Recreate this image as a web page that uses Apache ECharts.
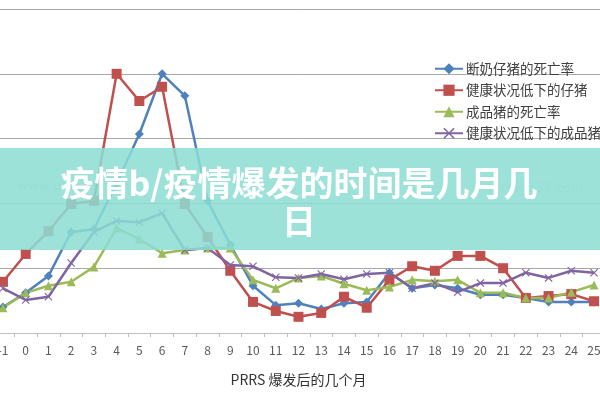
<!DOCTYPE html>
<html>
<head>
<meta charset="utf-8">
<script src="https://cdn.jsdelivr.net/npm/echarts/dist/echarts.min.js"></script>
<style>
    html, body { margin: 0; padding: 0; background: #fff; overflow: hidden; }
    #chart { position: relative; left: -10px; width: 620px; height: 400px; }
</style>
</head>
<body>
<div id="chart"></div>
<script>
    // months after the outbreak
    var months = ['-1', '0', '1', '2', '3', '4', '5', '6', '7', '8', '9', '10', '11', '12',
        '13', '14', '15', '16', '17', '18', '19', '20', '21', '22', '23', '24', '25'];

    var seriesNames = ['断奶仔猪的死亡率', '健康状况低下的仔猪', '成品猪的死亡率', '健康状况低下的成品猪'];

    var weanedMortality = [0.40, 0.62, 0.88, 1.56, 1.60, 2.31, 3.07, 4.00, 3.66, 2.04, 1.36, 0.73, 0.43, 0.46,
        0.37, 0.46, 0.48, 0.93, 0.69, 0.74, 0.69, 0.59, 0.59, 0.54, 0.48, 0.48, 0.48];
    var poorPiglets = [0.79, 1.22, 1.57, 1.99, 2.04, 4.00, 3.58, 3.80, 1.99, 1.48, 0.96, 0.48, 0.34, 0.25,
        0.31, 0.56, 0.39, 0.82, 1.03, 0.96, 1.19, 1.19, 1.00, 0.54, 0.57, 0.60, 0.49];
    var finisherMortality = [0.39, 0.62, 0.73, 0.79, 1.02, 1.62, 1.45, 1.23, 1.28, 1.31, 1.31, 0.82, 0.69, 0.85,
        0.88, 0.76, 0.66, 0.71, 0.82, 0.80, 0.82, 0.62, 0.62, 0.54, 0.54, 0.63, 0.74];
    var poorFinishers = [0.69, 0.51, 0.56, 1.08, 1.56, 1.73, 1.71, 1.85, 1.28, 1.31, 1.05, 1.03, 0.86, 0.85,
        0.91, 0.83, 0.91, 0.93, 0.69, 0.77, 0.63, 0.77, 0.77, 0.93, 0.85, 0.96, 0.93];

    var crossSymbol = 'path://M0,1L1,0L5,4L9,0L10,1L6,5L10,9L9,10L5,6L1,10L0,9L4,5Z';

    // the div sits 10px left of the page so the first category can start off-screen
    var shift = 10;

    var myChart = echarts.init(document.getElementById('chart'));

    function makeLine(name, data, color, symbol, size) {
        return {
            name: name,
            type: 'line',
            data: data,
            symbol: symbol,
            symbolSize: size,
            showSymbol: true,
            lineStyle: { color: color, width: 2.5 },
            itemStyle: { color: color },
            emphasis: { disabled: true }
        };
    }

    var options = {
        animation: false,
        textStyle: { fontFamily: '"Noto Sans CJK SC", "DejaVu Sans", sans-serif' },
        grid: { left: 1.6, right: 4.6, top: 9, bottom: 67, containLabel: false },
        legend: {
            orient: 'vertical',
            left: 429 + shift,
            top: 57,
            itemWidth: 28,
            itemHeight: 14,
            itemGap: 8,
            textStyle: { color: '#404040', fontSize: 13.5, padding: [0, 0, 0, -2] },
            data: seriesNames
        },
        xAxis: {
            type: 'category',
            data: months,
            boundaryGap: true,
            name: 'PRRS 爆发后的几个月',
            nameLocation: 'middle',
            nameGap: 40,
            nameTextStyle: { color: '#333', fontSize: 14 },
            axisLine: { lineStyle: { color: '#bfbfbf', width: 1 } },
            axisTick: { show: true, length: 4, lineStyle: { color: '#bfbfbf' } },
            axisLabel: { color: '#595959', fontSize: 12, margin: 11, interval: 0 },
            splitLine: { show: false }
        },
        yAxis: {
            type: 'value',
            min: 0,
            max: 5,
            interval: 1,
            axisLabel: { show: false },
            axisLine: { show: false },
            axisTick: { show: false },
            splitLine: { show: true, lineStyle: { color: '#a9a9a9', width: 1 } }
        },
        series: [
            makeLine(seriesNames[0], weanedMortality, '#4f81bd', 'diamond', 9),
            makeLine(seriesNames[1], poorPiglets, '#c0504d', 'rect', 10),
            makeLine(seriesNames[2], finisherMortality, '#9bbb59', 'triangle', 9),
            makeLine(seriesNames[3], poorFinishers, '#8064a2', crossSymbol, 8)
        ],
        graphic: [
            {
                type: 'text', left: 18 + shift, top: 180, z: 50, silent: true,
                style: { text: 'www.pig333.com', fill: 'rgba(170,170,170,0.35)', font: '13px "DejaVu Sans"' }
            },
            {
                type: 'text', left: 472 + shift, top: 182, z: 50, silent: true,
                style: { text: 'www.pig333.com', fill: 'rgba(170,170,170,0.35)', font: '13px "DejaVu Sans"' }
            },
            {
                type: 'rect', left: 0, top: 148, z: 100, silent: true,
                shape: { width: 620, height: 102 },
                style: { fill: 'rgba(140,221,211,0.86)' }
            },
            {
                type: 'text', x: 299 + shift, y: 164, z: 101, silent: true,
                style: {
                    text: '疫情b/疫情爆发的时间是几月几\n日',
                    fill: '#ffffff',
                    font: 'bold 34px "Noto Sans CJK SC"',
                    align: 'center',
                    lineHeight: 38
                }
            }
        ]
    };

    myChart.setOption(options);
    window.addEventListener('resize', myChart.resize);
</script>
</body>
</html>
